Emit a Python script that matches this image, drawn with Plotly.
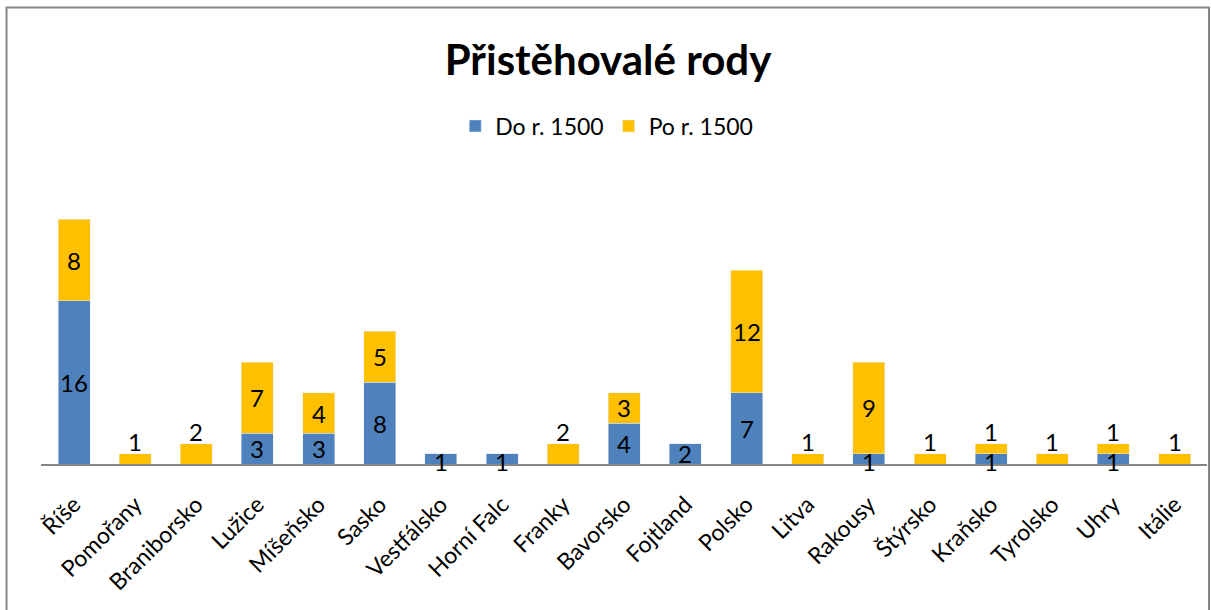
import plotly.graph_objects as go

categories = ["Říše", "Pomořany", "Braniborsko", "Lužice", "Míšeňsko", "Sasko",
              "Vestfálsko", "Horní Falc", "Franky", "Bavorsko", "Fojtland", "Polsko",
              "Litva", "Rakousy", "Štýrsko", "Kraňsko", "Tyrolsko", "Uhry", "Itálie"]
do_1500 = [16, 0, 0, 3, 3, 8, 1, 1, 0, 4, 2, 7, 0, 1, 0, 1, 0, 1, 0]
po_1500 = [8, 1, 2, 7, 4, 5, 0, 0, 2, 3, 0, 12, 1, 9, 1, 1, 1, 1, 1]

BLUE = "#4F81BD"
YELLOW = "#FFC000"
FONT = "Lato"

W, H = 1211, 610
L, R, T, B = 41, 3.5, 158, 146
YMAX = 30

fig = go.Figure()
fig.add_trace(go.Bar(x=categories, y=do_1500, name="Do r. 1500", marker_color=BLUE))
fig.add_trace(go.Bar(x=categories, y=po_1500, name="Po r. 1500", marker_color=YELLOW))

LBL = dict(family=FONT, size=24, color="black")
ann = []
for c, d, p in zip(categories, do_1500, po_1500):
    if d > 0:
        ann.append(dict(x=c, y=d / 2, text=str(d), showarrow=False,
                        yshift=-3 if d <= 1 else 0, font=LBL))
    if p > 0:
        if p <= 2 and d <= 1:
            ann.append(dict(x=c, y=d + p, text=str(p), showarrow=False, yanchor="bottom",
                            yshift=-4, font=LBL))
        else:
            ann.append(dict(x=c, y=d + p / 2, text=str(p), showarrow=False, font=LBL))

pw = W - L - R
ph = H - T - B
x0 = (6.5 - L) / pw
x1 = (1209.5 - L) / pw
y1 = (H - B - 7.5) / ph
y0 = (H - B - 620) / ph

fig.update_layout(
    width=W, height=H,
    margin=dict(l=L, r=R, t=T, b=B, autoexpand=False),
    barmode="stack", bargap=0.477,
    plot_bgcolor="white", paper_bgcolor="white",
    title=dict(text="<b>Přistěhovalé rody</b>", x=608 / W, xref="container", xanchor="center",
               y=1 - 60 / H, yanchor="middle",
               font=dict(family=FONT, size=42, color="black")),
    legend=dict(orientation="h", x=(607 - L) / pw, xanchor="center", xref="paper",
                y=(H - B - 126) / ph, yanchor="middle",
                font=dict(family=FONT, size=23, color="black"),
                itemwidth=30, traceorder="normal"),
    xaxis=dict(range=[-0.54, 18.53], showline=True, linecolor="#868686", linewidth=2,
               tickangle=-45, ticks="", tickfont=dict(family=FONT, size=23, color="black"),
               ticklabelstandoff=16, showgrid=False, automargin=False),
    yaxis=dict(range=[0, YMAX], visible=False, showgrid=False, zeroline=False),
    annotations=ann,
    shapes=[dict(type="rect", xref="paper", yref="paper", x0=x0, x1=x1, y0=y0, y1=y1,
                 line=dict(color="#868686", width=2), fillcolor="rgba(0,0,0,0)", layer="below")],
)

fig.write_html("out.html", config={"displayModeBar": False},
               post_script="document.body.style.margin='0';document.body.style.overflow='hidden';")
